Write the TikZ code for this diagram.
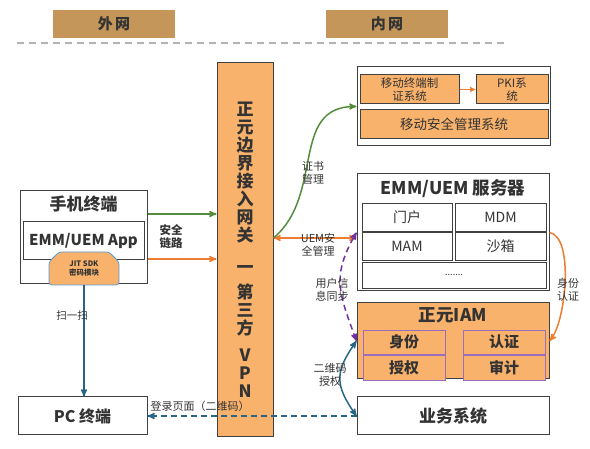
\documentclass[tikz,border=0pt]{standalone}
\usepackage{fontspec}
\setmainfont{Noto Sans CJK SC}
\usetikzlibrary{arrows,positioning,calc}
\usetikzlibrary{shapes.misc}
\definecolor{netbrown}{RGB}{196,150,90}
\definecolor{boxorange}{RGB}{249,178,108}
\definecolor{linkorange}{RGB}{237,125,49}
\definecolor{linkgreen}{RGB}{84,140,60}
\definecolor{linkblue}{RGB}{40,100,135}
\definecolor{linkpurple}{RGB}{112,48,160}
\definecolor{edgegray}{RGB}{64,64,64}
\definecolor{sdkblue}{RGB}{91,155,213}

\begin{document}
\begin{tikzpicture}[x=1pt,y=1pt,>=stealth',text=black!80]
\tikzstyle{zone}=[rectangle,fill=netbrown,
  minimum width=122pt,minimum height=28pt,
  font=\fontsize{15}{18}\selectfont\bfseries
]
\tikzstyle{frame}=[rectangle,draw=edgegray,line width=1pt,fill=white,
  inner sep=0pt,align=center
]
\tikzstyle{module}=[rectangle,draw=edgegray,line width=1pt,fill=boxorange,
  inner sep=0pt,align=center
]
\tikzstyle{cell}=[rectangle,draw=edgegray,line width=0.8pt,fill=white,
  inner sep=0pt,minimum height=28pt,
  font=\fontsize{14}{16}\selectfont
]
\tikzstyle{iamcell}=[rectangle,draw=linkpurple!70,line width=0.8pt,fill=boxorange,
  inner sep=0pt,minimum width=82pt,
  font=\fontsize{15}{18}\selectfont\bfseries
]
\tikzstyle{bigtitle}=[font=\fontsize{17.5}{19}\selectfont\bfseries]
\tikzstyle{note}=[align=center,inner sep=0pt,font=\fontsize{11}{12.5}\selectfont]
\tikzstyle{link}=[line width=1.5pt]

\useasboundingbox (0,0) rectangle (590,449);

% zones
\node[zone] (out) at (114,425) {外\,网};
\node[zone] (in)  at (387,425) {内\,网};
\draw[gray!60,line width=1.6pt,dash pattern=on 7pt off 5pt] (17,406) -- (505,406);

% gateway
\node[module,minimum width=56pt,minimum height=374pt,
  font=\fontsize{17}{18}\selectfont\bfseries] (gw) at (245,199)
  {正\\元\\边\\界\\接\\入\\网\\关\\[14pt]一\\[7pt]第\\三\\方\\[9pt]V\\P\\N};

% certificate side
\node[frame,minimum width=193pt,minimum height=79pt] (cert) at (453.5,342.5) {};
\node[module,minimum width=99pt,minimum height=29pt,
  font=\fontsize{11.5}{12.5}\selectfont] (mk) at (409.5,359.5) {移动终端制\\证系统};
\node[module,minimum width=72pt,minimum height=29pt,
  font=\fontsize{11.5}{12.5}\selectfont] (pki) at (512,359.5) {PKI系\\统};
\node[module,minimum width=188pt,minimum height=29pt,
  font=\fontsize{13.5}{16}\selectfont] (msm) at (454,324.5) {移动安全管理系统};
\draw[->,linkorange,line width=1pt] (mk) -- (pki);

% EMM/UEM server
\node[frame,minimum width=192pt,minimum height=117pt] (emm) at (453,216.5) {};
\node[bigtitle] (emmtitle) at (453,260) {EMM/UEM 服务器};
\node[cell,minimum width=90pt] (portal)  at (407,232)   {门户};
\node[cell,minimum width=91pt] (mdm)     at (500.5,232) {MDM};
\node[cell,minimum width=90pt] (mam)     at (407,203)   {MAM};
\node[cell,minimum width=91pt] (sandbox) at (500.5,203) {沙箱};
\node[cell,minimum width=184pt,minimum height=26pt,
  font=\fontsize{9}{10}\selectfont] (dots) at (454,174) {.......};

% IAM
\node[module,minimum width=192pt,minimum height=76pt] (iam) at (453,108) {};
\node[bigtitle] (iamtitle) at (453,134) {正元IAM};
\node[iamcell,minimum height=24pt] (ident) at (404,107)  {身份};
\node[iamcell,minimum height=25pt] (grant) at (404,81.5) {授权};
\node[iamcell,minimum height=24pt] (authn) at (504,107)  {认证};
\node[iamcell,minimum height=25pt] (audit) at (504,81.5) {审计};

\node[frame,minimum width=192pt,minimum height=38pt,
  font=\fontsize{17}{18}\selectfont\bfseries] (biz) at (453,33) {业务系统};

% terminals
\node[frame,minimum width=127pt,minimum height=93pt] (phone) at (83.5,211.5) {};
\node[font=\fontsize{17}{19}\selectfont\bfseries] (phonetitle) at (83.5,245) {手机终端};
\node[frame,minimum width=121pt,minimum height=38pt,
  font=\fontsize{15}{18}\selectfont\bfseries] (app) at (83.5,208) {EMM/UEM App};
\node[chamfered rectangle,chamfered rectangle corners={north west,north east},
  chamfered rectangle xsep=5pt,chamfered rectangle ysep=5pt,rounded corners=3pt,
  draw=sdkblue,line width=0.8pt,fill=boxorange,inner sep=0pt,
  minimum width=70pt,minimum height=33pt,align=center,
  font=\fontsize{7.5}{9}\selectfont\bfseries] (sdk) at (84,180.5) {JIT SDK\\密码模块};

\node[frame,minimum width=129pt,minimum height=38pt,
  font=\fontsize{16}{18}\selectfont\bfseries] (pc) at (82.5,33) {PC 终端};

% links
\coordinate (p1) at ([yshift=23.5pt]phone.east);
\coordinate (p2) at ([yshift=-21.5pt]phone.east);
\draw[->,link,linkgreen] (p1) -- (p1 -| gw.west);
\draw[->,link,linkorange] (p2) -- (p2 -| gw.west);
\node[note,font=\fontsize{11.5}{13}\selectfont\bfseries] (secure) at (171,212) {安全\\链路};

\coordinate (e1) at ([yshift=-5.5pt]emm.west);
\draw[<->,link,linkorange] (gw.east |- e1) -- (e1);
\draw[->,link,linkgreen] (gw.east |- e1) to[out=40,in=180,looseness=1.1] (cert.west);
\node[note] (certlbl) at (313,276) {证书\\管理};
\node[note] (uemlbl) at (318,204) {UEM安\\全管理};

\draw[<->,link,linkpurple,dash pattern=on 6pt off 4pt] (iam.west) to[out=110,in=240,looseness=1.2] (emm.west);
\node[note] (synclbl) at (332,159) {用户信\\息同步};

\draw[->,link,linkorange] (emm.east) to[out=-10,in=50,looseness=0.6] (iam.east);
\node[note] (idlbl) at (568,159) {身份\\认证};

\draw[<->,link,linkblue] (biz.west) to[out=125,in=235,looseness=1.3] (iam.west);
\node[note] (qrlbl) at (330,74) {二维码\\授权};

\draw[->,link,linkblue,dash pattern=on 6pt off 4pt] (biz.west) -- (pc.east);
\node[note] (loginlbl) at (200,43) {登录页面（二维码）};

\draw[->,link,linkblue] (sdk.south) -- (sdk.south |- pc.north);
\node[note,font=\fontsize{10.5}{12}\selectfont] (scanlbl) at (72,133) {扫一扫};
\end{tikzpicture}
\end{document}
